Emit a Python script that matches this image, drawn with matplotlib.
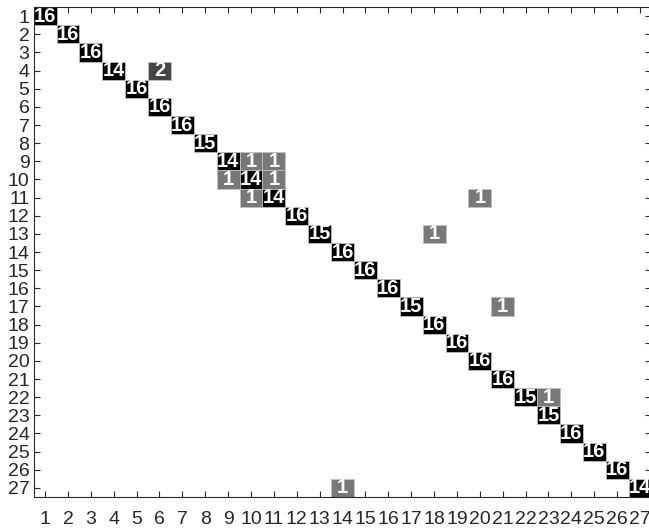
import numpy as np
import matplotlib
matplotlib.use("Agg")
import matplotlib.pyplot as plt

plt.rcParams['font.family'] = ['Liberation Sans', 'DejaVu Sans']

n_classes = 27
class_labels = [str(i) for i in range(1, n_classes + 1)]
diag_counts = [16, 16, 16, 14, 16, 16, 16, 15, 14, 14, 14, 16, 15, 16,
               16, 16, 15, 16, 16, 16, 16, 15, 15, 16, 16, 16, 14]
# (true row, predicted column, count), 1-based
off_rows = [4, 9, 9, 10, 10, 11, 11, 13, 17, 22, 27]
off_cols = [6, 10, 11, 9, 11, 10, 20, 18, 21, 23, 14]
off_vals = [2, 1, 1, 1, 1, 1, 1, 1, 1, 1, 1]

M = np.zeros((n_classes, n_classes), dtype=int)
for i, v in enumerate(diag_counts):
    M[i, i] = v
for r, c, v in zip(off_rows, off_cols, off_vals):
    M[r - 1, c - 1] = v


def cell_color(v):
    if v >= 10:
        return '#000000'
    if v == 2:
        return '#454545'
    return '#787878'


fig = plt.figure(figsize=(6.49, 5.29), dpi=100)
ax = fig.add_axes([0.0518, 0.0605, 0.952, 0.926])

rows, cols = np.nonzero(M)
vals = M[rows, cols]
ax.bar(cols + 1, 1.0, bottom=rows + 0.5, width=1.0,
       color=[cell_color(v) for v in vals], edgecolor='#c0c0c0', linewidth=0.6,
       zorder=2)

for r, c, v in zip(rows, cols, vals):
    ax.text(c + 1, r + 1, str(v), ha='center', va='center', color='white',
            fontsize=14.5, fontweight='bold',
            family=['Liberation Sans Narrow', 'Liberation Sans'], zorder=3)

ax.set_xlim(0.5, n_classes + 0.5)
ax.set_ylim(n_classes + 0.5, 0.5)
ax.set_xticks(range(1, n_classes + 1))
ax.set_yticks(range(1, n_classes + 1))
ax.set_xticklabels(class_labels)
ax.set_yticklabels(class_labels)
ax.tick_params(direction='in', top=True, right=True, length=4, width=0.8,
               labelsize=14, colors='#262626')
ax.tick_params(axis='x', pad=10)
ax.tick_params(axis='y', pad=3)
for s in ax.spines.values():
    s.set_color('#262626')
    s.set_linewidth(0.8)
    s.set_zorder(4)

fig.savefig('out.png', dpi=100)
